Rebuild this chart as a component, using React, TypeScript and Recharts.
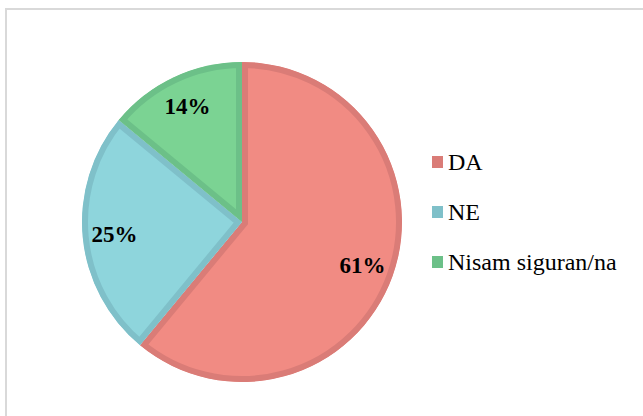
import { Pie, PieChart, Sector } from "recharts";

const categories = ["DA", "NE", "Nisam siguran/na"];
const shares = [61, 25, 14];
const fills = ["#f18b83", "#8ed5dc", "#7bd393"];
const edges = ["#da7c77", "#7fc0c9", "#6cc088"];

const data = categories.map((name, i) => ({ name, value: shares[i], fill: fills[i], stroke: edges[i] }));

const RAD = Math.PI / 180;
const serif = "'Liberation Serif', 'DejaVu Serif', serif";

// stroke drawn inside each slice only: clip a wide stroke to the slice itself
function InsetSector(props: any) {
  const id = "clip-" + String(props.name).replace(/[^a-z]/gi, "");
  return (
    <g>
      <defs>
        <clipPath id={id}>
          <Sector cx={props.cx} cy={props.cy} innerRadius={0} outerRadius={props.outerRadius} startAngle={props.startAngle} endAngle={props.endAngle} />
        </clipPath>
      </defs>
      <Sector {...props} strokeWidth={12} clipPath={`url(#${id})`} />
    </g>
  );
}

function renderLabel(props: any) {
  const { cx, cy, midAngle, outerRadius, value } = props;
  const r = outerRadius * 0.8;
  const x = cx + r * Math.cos(-midAngle * RAD);
  const y = cy + r * Math.sin(-midAngle * RAD);
  return (
    <text x={x} y={y} textAnchor="middle" dominantBaseline="central" fill="#000" style={{ fontFamily: serif }} fontWeight="bold" fontSize={23}>
      {value}%
    </text>
  );
}

function LegendBox() {
  return (
    <div style={{ position: "absolute", left: 432, top: 137, fontFamily: serif, fontSize: 24, color: "#000" }}>
      {data.map((d) => (
        <div key={d.name} style={{ display: "flex", alignItems: "center", height: 50, whiteSpace: "nowrap" }}>
          <span style={{ display: "inline-block", width: 11, height: 12, background: d.stroke, marginRight: 5 }} />
          <span>{d.name}</span>
        </div>
      ))}
    </div>
  );
}

export default function App() {
  return (
    <div style={{ position: "absolute", left: 0, top: 0, width: 643, height: 416, overflow: "hidden", background: "#fff" }}>
      <div style={{ position: "absolute", left: 5, top: 8, width: 700, height: 500, border: "2px solid #d9d9d9", boxSizing: "border-box" }} />
      <div style={{ position: "absolute", left: 0, top: 0 }}>
        <PieChart width={643} height={416} margin={{ top: 0, right: 0, bottom: 0, left: 0 }}>
          <Pie
            data={data}
            dataKey="value"
            nameKey="name"
            cx={242}
            cy={222}
            outerRadius={160}
            startAngle={90}
            endAngle={-270}
            shape={InsetSector}
            label={renderLabel}
            labelLine={false}
            isAnimationActive={false}
          />
        </PieChart>
      </div>
      <LegendBox />
    </div>
  );
}
